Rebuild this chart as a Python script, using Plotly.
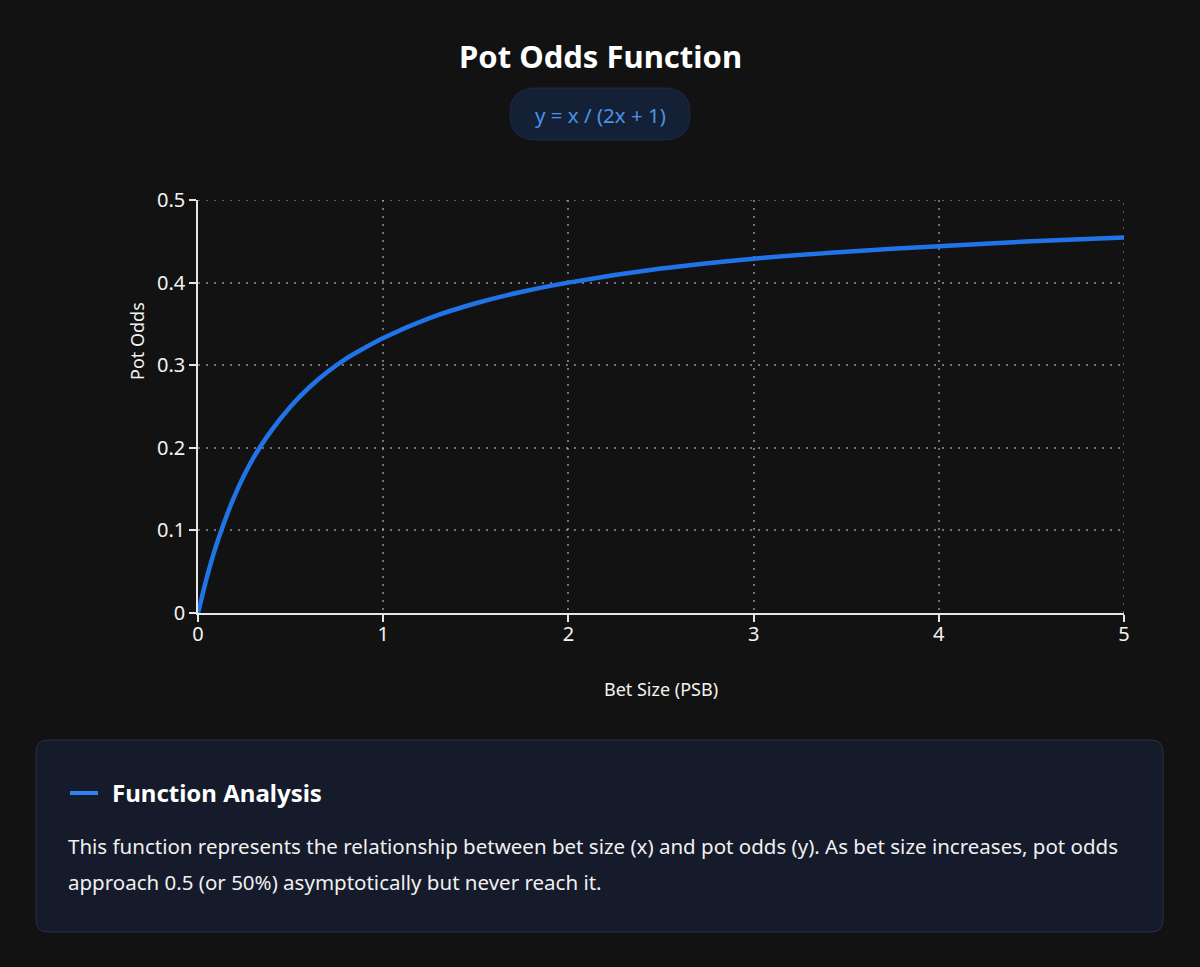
import plotly.graph_objects as go

# values
bet_size = [0, 0.05, 0.1, 0.2, 0.3, 0.4, 0.5, 0.6, 0.7, 0.8, 0.9, 1, 1.25, 1.5, 1.75, 2,
            2.5, 3, 3.5, 4, 4.5, 5]
pot_odds = [0, 0.045, 0.083, 0.143, 0.188, 0.222, 0.25, 0.273, 0.292, 0.308, 0.321, 0.333,
            0.357, 0.375, 0.389, 0.4, 0.417, 0.429, 0.4375, 0.444, 0.45, 0.4545]
x_ticks = [0, 1, 2, 3, 4, 5]
y_ticks = [0, 0.1, 0.2, 0.3, 0.4, 0.5]
y_tick_text = ["0", "0.1", "0.2", "0.3", "0.4", "0.5"]

W, H = 1200, 967
FONT = "Noto Sans"
GRID = "rgba(210,210,210,0.5)"


def px(x):
    return x / W


def py(y):
    return 1 - y / H


def rounded_rect(x0, y0, x1, y1, r):
    # path in paper coords, built from pixel values
    p = [
        f"M {px(x0 + r)} {py(y0)}",
        f"L {px(x1 - r)} {py(y0)}",
        f"Q {px(x1)} {py(y0)} {px(x1)} {py(y0 + r)}",
        f"L {px(x1)} {py(y1 - r)}",
        f"Q {px(x1)} {py(y1)} {px(x1 - r)} {py(y1)}",
        f"L {px(x0 + r)} {py(y1)}",
        f"Q {px(x0)} {py(y1)} {px(x0)} {py(y1 - r)}",
        f"L {px(x0)} {py(y0 + r)}",
        f"Q {px(x0)} {py(y0)} {px(x0 + r)} {py(y0)}",
        "Z",
    ]
    return " ".join(p)


fig = go.Figure()
fig.add_trace(go.Scatter(
    x=bet_size, y=pot_odds, mode="lines",
    line=dict(color="#2173e8", width=4.5, shape="spline", smoothing=0.8),
    showlegend=False, hoverinfo="x+y",
))

axis_common = dict(
    showline=True, linecolor="#e6e6e6", linewidth=1.5,
    ticks="outside", ticklen=7, tickcolor="#e6e6e6", tickwidth=1.5,
    showgrid=True, gridcolor=GRID, griddash="2px,6px", gridwidth=1.5,
    zeroline=False, automargin=False,
    tickfont=dict(family=FONT, size=20, color="#f2f2f2"),
)

fig.update_layout(
    width=W, height=H,
    margin=dict(l=0, r=0, t=0, b=0, pad=0),
    paper_bgcolor="#121212", plot_bgcolor="#121212",
    font=dict(family=FONT, color="#f2f2f2"),
    xaxis=dict(
        domain=[px(198), px(1124)], range=[0, 5], tickvals=x_ticks, ticklabelstandoff=-5,
        title=dict(text="Bet Size (PSB)", font=dict(family=FONT, size=18, color="#f2f2f2"), standoff=38),
        **axis_common,
    ),
    yaxis=dict(
        domain=[py(613), py(200)], range=[0, 0.5], tickvals=y_ticks, ticktext=y_tick_text,
        ticklabelstandoff=0,
        **axis_common,
    ),
    shapes=[
        # formula pill
        dict(type="path", xref="paper", yref="paper", path=rounded_rect(510, 88, 690, 140, 26),
             fillcolor="#142036", line=dict(color="#1c2a44", width=1), layer="below"),
        # analysis panel
        dict(type="path", xref="paper", yref="paper", path=rounded_rect(36, 740, 1163, 932, 12),
             fillcolor="#151b2b", line=dict(color="#283145", width=1), layer="below"),
        # legend swatch
        dict(type="line", xref="paper", yref="paper", x0=px(70), x1=px(98), y0=py(793), y1=py(793),
             line=dict(color="#2d82f2", width=4)),
        # grid lines on the top and right edges (plotly drops these)
        dict(type="line", xref="x", yref="y", x0=x_ticks[0], x1=x_ticks[-1], y0=y_ticks[-1], y1=y_ticks[-1],
             line=dict(color=GRID, width=1.5, dash="2px,6px"), layer="below"),
        dict(type="line", xref="x", yref="y", x0=x_ticks[-1], x1=x_ticks[-1], y0=y_ticks[0], y1=y_ticks[-1],
             line=dict(color=GRID, width=1.5, dash="2px,6px"), layer="below"),
    ],
    annotations=[
        dict(text="<b>Pot Odds Function</b>", xref="paper", yref="paper", x=0.5, y=py(56),
             showarrow=False, font=dict(family=FONT, size=31, color="#ffffff"),
             xanchor="center", yanchor="middle"),
        dict(text="y = x / (2x + 1)", xref="paper", yref="paper", x=0.5, y=py(115),
             showarrow=False, font=dict(family=FONT, size=20.5, color="#4b93e8"),
             xanchor="center", yanchor="middle"),
        # y axis title sits a bit above the middle of the axis
        dict(text="Pot Odds", xref="paper", yref="paper", x=px(137), y=py(341), textangle=-90,
             showarrow=False, font=dict(family=FONT, size=18, color="#f2f2f2"),
             xanchor="center", yanchor="middle"),
        dict(text="<b>Function Analysis</b>", xref="paper", yref="paper", x=px(110), y=py(792),
             showarrow=False, font=dict(family=FONT, size=24, color="#ffffff"),
             xanchor="left", yanchor="middle"),
        dict(text="This function represents the relationship between bet size (x) and pot odds (y). "
                  "As bet size increases, pot odds",
             xref="paper", yref="paper", x=px(66), y=py(846),
             showarrow=False, font=dict(family=FONT, size=20.5, color="#f0f0f0"),
             xanchor="left", yanchor="middle", align="left"),
        dict(text="approach 0.5 (or 50%) asymptotically but never reach it.",
             xref="paper", yref="paper", x=px(66), y=py(882),
             showarrow=False, font=dict(family=FONT, size=20.5, color="#f0f0f0"),
             xanchor="left", yanchor="middle", align="left"),
    ],
)

fig.write_html(
    "out.html",
    config={"displayModeBar": False},
    post_script="document.body.style.margin='0';document.body.style.background='#121212';",
)
